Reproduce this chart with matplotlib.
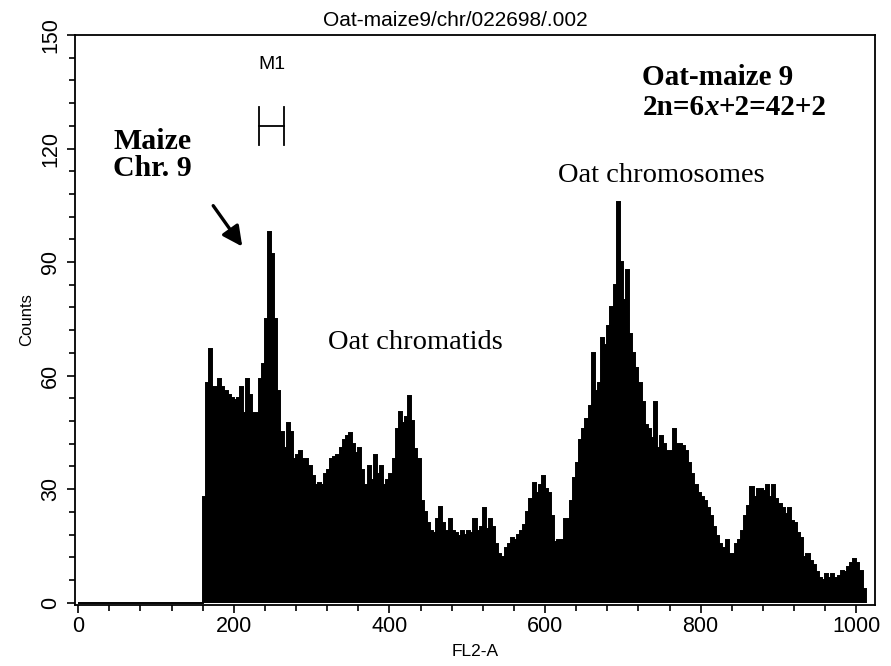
import numpy as np
import matplotlib
matplotlib.use("Agg")
import matplotlib.pyplot as plt
from matplotlib import font_manager
from matplotlib.ticker import MultipleLocator

# ---------------- data ----------------
bin_width = 4            # FL2-A channels per histogram bin
first_channel = 160      # first non-empty channel
counts = [
    # 160 - 327
    28, 58, 67, 57, 57, 59, 57, 56, 55, 54, 53.5, 54, 57, 50, 59, 55, 50, 50, 59, 63,
    75, 98, 92, 75, 56, 45, 41, 47.5, 45, 38, 39, 40, 38, 38, 36, 33.5, 31, 31.5, 31, 34,
    35, 38,
    # 328 - 499
    38.6, 39, 41, 43, 44, 44.8, 42, 39.5, 41, 35, 31, 36, 32.5, 39, 34, 36, 31, 32.5, 34, 38,
    46, 50.5, 47.5, 49, 54.5, 48, 40.5, 38, 27, 24, 21, 19, 18.4, 22, 25.4, 21, 19, 22, 19, 18.4,
    17.5, 19, 18,
    # 500 - 647
    19, 18.5, 22, 19, 20, 25, 19.5, 22, 20, 15.5, 13, 12, 14.5, 15.5, 17, 16.5, 18, 19, 20.5, 24,
    27.5, 31.5, 29, 31, 33.5, 30, 29, 23, 16, 16.7, 16.7, 22, 22, 27, 33, 37, 43,
    # 648 - 799
    46, 48.5, 52, 66, 56, 58, 70, 68, 73, 78, 84, 106, 90, 80, 88, 71, 66, 62, 58, 53,
    47, 46, 43.5, 53, 41, 44, 42, 40, 40, 46, 42, 42, 41.5, 40, 37, 34, 31, 29,
    # 800 - 1011
    28, 27, 25, 23, 20, 17.5, 15.5, 14.5, 16.5, 13, 13, 15.5, 16.5, 19, 23, 25.5, 30.5, 28, 30, 30,
    29.5, 31, 28, 31, 27.5, 26, 25, 23.5, 25, 21.5, 21, 18.5, 17, 12, 13, 11, 10, 8, 6.5, 6,
    7.5, 6.5, 7.5, 6.5, 7, 8.5, 8, 9.5, 10.5, 11.5, 10.5, 8.5, 3.5,
]
x_ticks = [0, 200, 400, 600, 800, 1000]
y_ticks = [0, 30, 60, 90, 120, 150]
x_minor_step = 40
y_minor_step = 6
x_limits = (-4, 1024)
y_limits = (-0.6, 150)

title = "Oat-maize9/chr/022698/.002"
x_label = "FL2-A"
y_label = "Counts"

marker_name = "M1"
marker_lo, marker_hi, marker_level = 232, 265, 126

# ---------------- fonts ----------------
def has_font(name):
    try:
        font_manager.findfont(font_manager.FontProperties(family=name),
                              fallback_to_default=False)
        return True
    except Exception:
        return False

if has_font("Liberation Sans Narrow"):
    sans = ["Liberation Sans Narrow", "DejaVu Sans"]
    tick_size, title_size, marker_size, label_size = 18, 17.5, 16.5, 15
else:
    sans = ["Liberation Sans", "DejaVu Sans"]
    tick_size, title_size, marker_size, label_size = 15.5, 15, 14, 12.5
serif = ["Liberation Serif", "DejaVu Serif"]
serif_size = 20.5

# ---------------- figure ----------------
fig = plt.figure(figsize=(8.91, 6.66), dpi=100)
ax = fig.add_axes([0.0842, 0.0916, 0.8978, 0.8559])

n_empty = first_channel // bin_width
values = np.concatenate([np.zeros(n_empty), np.asarray(counts, float)])
edges = bin_width * np.arange(len(values) + 1)
ax.stairs(values, edges, fill=True, color="black", linewidth=0)
ax.stairs(values, edges, color="black", linewidth=1.4)

ax.set_xlim(*x_limits)
ax.set_ylim(*y_limits)

for s in ax.spines.values():
    s.set_linewidth(1.3)
    s.set_color("black")

ax.set_xticks(x_ticks)
ax.set_yticks(y_ticks)
ax.xaxis.set_minor_locator(MultipleLocator(x_minor_step))
ax.yaxis.set_minor_locator(MultipleLocator(y_minor_step))
ax.tick_params(which="major", direction="out", length=6, width=1.2, top=False, right=False)
ax.tick_params(which="minor", direction="out", length=4, width=1.2, top=False, right=False)
ax.tick_params(axis="x", pad=2)
ax.tick_params(axis="y", pad=4)
ax.set_xticklabels([str(t) for t in x_ticks], fontfamily=sans, fontsize=tick_size)
ax.set_yticklabels([str(t) for t in y_ticks], fontfamily=sans, fontsize=tick_size,
                   rotation=90, va="center")

ax.set_xlabel(x_label, fontfamily=sans, fontsize=label_size, labelpad=5)
ax.set_ylabel(y_label, fontfamily=sans, fontsize=label_size - 0.5, labelpad=4)
fig.text(0.511, 0.969, title, fontfamily=sans, fontsize=title_size,
         ha="center", va="center")

# marker gate M1
ax.text((marker_lo + marker_hi) / 2 + 1, 142.3, marker_name, fontfamily=sans,
        fontsize=marker_size, ha="center", va="center")
ax.plot([marker_lo, marker_lo], [121, 131], color="black", lw=1.3)
ax.plot([marker_hi, marker_hi], [121, 131], color="black", lw=1.3)
ax.plot([marker_lo, marker_hi], [marker_level, marker_level], color="black", lw=1.3)

# annotations
ax.text(45, 125.3, "Maize\nChr. 9", fontfamily=serif, fontweight="bold", fontsize=21.5,
        ha="left", va="top", linespacing=0.97)
ax.annotate("", xy=(213, 93.5), xytext=(171.5, 105.5),
            arrowprops=dict(arrowstyle="-|>", lw=2.4, color="black", mutation_scale=30))

ax.text(749, 112.8, "Oat chromosomes", fontfamily=serif, fontsize=serif_size,
        ha="center", va="center")
ax.text(433, 68.7, "Oat chromatids", fontfamily=serif, fontsize=serif_size,
        ha="center", va="center")

ax.text(725, 142.3, "Oat-maize 9", fontfamily=serif, fontweight="bold", fontsize=21,
        ha="left", va="top")
t_a = ax.text(725, 134.3, "2n=6", fontfamily=serif, fontweight="bold", fontsize=21,
              ha="left", va="top")
t_b = ax.annotate("x", xy=(1, 0), xycoords=t_a, fontfamily=serif, fontweight="bold",
                  fontstyle="italic", fontsize=21, ha="left", va="bottom")
ax.annotate("+2=42+2", xy=(1, 0), xycoords=t_b, fontfamily=serif, fontweight="bold",
            fontsize=21, ha="left", va="bottom")

fig.savefig("out.png", dpi=100)
